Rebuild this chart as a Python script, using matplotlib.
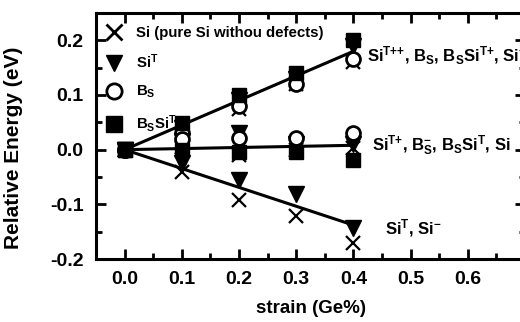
import matplotlib.pyplot as plt
from matplotlib.ticker import MultipleLocator

plt.rcParams["font.family"] = ["Liberation Sans", "DejaVu Sans"]
plt.rcParams["font.weight"] = "bold"
plt.rcParams["mathtext.fontset"] = "custom"
plt.rcParams["mathtext.rm"] = "Liberation Sans:bold"
plt.rcParams["mathtext.it"] = "Liberation Sans:bold"
plt.rcParams["mathtext.bf"] = "Liberation Sans:bold"

# ---------- data ----------
strain = [0.0, 0.1, 0.2, 0.3, 0.4]

# upper group: Si+, SiT++, Bs, BsSiT+
up_x = [0.0, 0.025, 0.075, 0.12, 0.160]
up_tri = [0.0, 0.040, 0.090, 0.130, 0.190]
up_circ = [0.0, 0.030, 0.080, 0.120, 0.165]
up_sq = [0.0, 0.048, 0.100, 0.140, 0.200]

# middle group: Si, SiT+, Bs-, BsSiT
mid_x = [0.0, 0.005, -0.010, 0.000, 0.003]
mid_tri = [0.0, 0.015, 0.030, 0.010, 0.010]
mid_circ = [0.0, 0.020, 0.022, 0.022, 0.030]
mid_sq = [0.0, 0.000, -0.005, -0.005, -0.018]

# lower group: Si-, SiT
low_x = [0.0, -0.040, -0.092, -0.122, -0.171]
low_tri = [0.0, -0.025, -0.055, -0.081, -0.143]

# fitted lines (end points)
line_x = [0.0, 0.4]
line_up = [0.0, 0.180]
line_mid = [0.0, 0.008]
line_low = [0.0, -0.138]

# ---------- plot ----------
fig = plt.figure(figsize=(5.2, 3.22), dpi=100)
ax = fig.add_axes([96 / 520, 1 - 259 / 322, (525 - 96) / 520, (259 - 13) / 322])

for ly in (line_up, line_mid, line_low):
    ax.plot(line_x, ly, color="black", lw=2.2, zorder=2)

mk = dict(color="black", linestyle="none", zorder=3)
ax.plot(strain, up_x, marker="x", ms=10, mew=1.6, **mk)
ax.plot(strain, mid_x, marker="x", ms=10, mew=1.6, **mk)
ax.plot(strain, low_x, marker="x", ms=10, mew=1.6, **mk)
ax.plot(strain, up_tri, marker="v", ms=12, **mk)
ax.plot(strain, mid_tri, marker="v", ms=12, **mk)
ax.plot(strain, low_tri, marker="v", ms=12, **mk)
ax.plot(strain, up_circ, marker="o", ms=10, mfc="white", mew=2, **mk)
ax.plot(strain, mid_circ, marker="o", ms=10, mfc="white", mew=2, **mk)
ax.plot(strain, up_sq, marker="s", ms=10, **mk)
ax.plot(strain, mid_sq, marker="s", ms=10, **mk)

# legend
h1, = ax.plot([], [], marker="x", ms=12, mew=2, **mk)
h2, = ax.plot([], [], marker="v", ms=12, **mk)
h3, = ax.plot([], [], marker="o", ms=11, mfc="white", mew=2, **mk)
h4, = ax.plot([], [], marker="s", ms=11, **mk)
ax.legend([h1, h2, h3, h4],
          ["Si (pure Si withou defects)", "Si$^{T}$", "B$_{S}$", "B$_{S}$Si$^{T}$"],
          loc="upper left", bbox_to_anchor=(0.0, 0.99), frameon=False,
          fontsize=10.8, handlelength=1.0, handletextpad=1.0, labelspacing=0.85,
          borderpad=0.2)

# annotations
ax.text(0.424, 0.172, "Si$^{T{+}{+}}$, B$_{S}$, B$_{S}$Si$^{T{+}}$, Si$^{{+}}$",
        fontsize=12, va="center", ha="left")
ax.text(0.433, 0.007, "Si$^{T{+}}$, B$_{S}^{{-}}$, B$_{S}$Si$^{T}$, Si",
        fontsize=12, va="center", ha="left")
ax.text(0.455, -0.143, "Si$^{T}$, Si$^{{-}}$",
        fontsize=12, va="center", ha="left")

ax.set_xlim(-0.05, 0.7)
ax.set_ylim(-0.2, 0.25)
ax.xaxis.set_minor_locator(MultipleLocator(0.05))
ax.yaxis.set_minor_locator(MultipleLocator(0.05))
ax.set_xticks([0.0, 0.1, 0.2, 0.3, 0.4, 0.5, 0.6])
ax.set_xticklabels(["0.0", "0.1", "0.2", "0.3", "0.4", "0.5", "0.6"])
ax.set_yticks([-0.2, -0.1, 0.0, 0.1, 0.2])
ax.set_yticklabels(["-0.2", "-0.1", "0.0", "0.1", "0.2"])
ax.tick_params(which="both", direction="in", top=True, right=True, width=2)
ax.tick_params(which="major", length=7, labelsize=14, pad=9)
ax.tick_params(which="minor", length=4)
for s in ax.spines.values():
    s.set_linewidth(2.2)

ax.set_xlabel("strain (Ge%)", fontsize=13.5, fontweight="bold", labelpad=8)
ax.set_ylabel("Relative Energy (eV)", fontsize=15, fontweight="bold")
ax.yaxis.set_label_coords(-0.17, 0.45)

fig.savefig("out.png", dpi=100)
